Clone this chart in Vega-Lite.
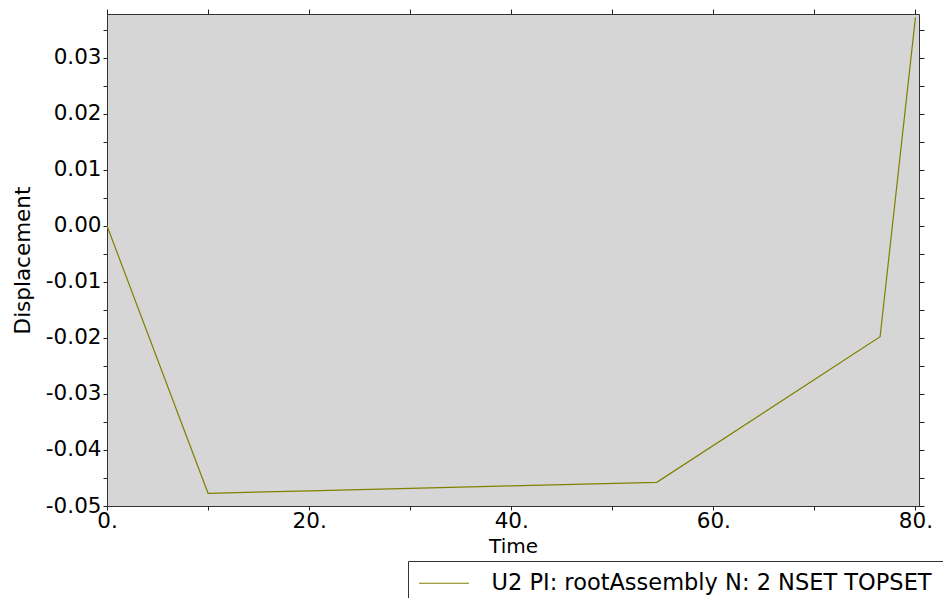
{
  "$schema": "https://vega.github.io/schema/vega-lite/v6.json",
  "autosize": "none",
  "width": 812,
  "height": 492,
  "padding": {"left": 107, "top": 14, "right": 24, "bottom": 92},
  "background": "white",
  "config": {
    "font": "DejaVu Sans",
    "view": {"fill": "#d6d6d6", "stroke": "#333333", "strokeWidth": 1},
    "axis": {
      "grid": false,
      "domain": false,
      "labelFont": "DejaVu Sans",
      "labelFontSize": 21.5,
      "labelColor": "black",
      "titleFont": "DejaVu Sans",
      "titleFontSize": 20,
      "titleFontWeight": "normal",
      "titleColor": "black",
      "tickColor": "#222222"
    }
  },
  "data": {
    "values": [
      {"time": 0, "u2": 0.0, "series": "U2 PI: rootAssembly N: 2 NSET TOPSET"},
      {"time": 10, "u2": -0.04774, "series": "U2 PI: rootAssembly N: 2 NSET TOPSET"},
      {"time": 20, "u2": -0.0473, "series": "U2 PI: rootAssembly N: 2 NSET TOPSET"},
      {"time": 30, "u2": -0.04686, "series": "U2 PI: rootAssembly N: 2 NSET TOPSET"},
      {"time": 40, "u2": -0.04642, "series": "U2 PI: rootAssembly N: 2 NSET TOPSET"},
      {"time": 54.4, "u2": -0.04578, "series": "U2 PI: rootAssembly N: 2 NSET TOPSET"},
      {"time": 76.5, "u2": -0.0198, "series": "U2 PI: rootAssembly N: 2 NSET TOPSET"},
      {"time": 80, "u2": 0.0372, "series": "U2 PI: rootAssembly N: 2 NSET TOPSET"}
    ]
  },
  "layer": [
    {
      "mark": {"type": "line", "strokeWidth": 1.2, "clip": true},
      "encoding": {
        "x": {
          "field": "time",
          "type": "quantitative",
          "scale": {"domain": [0, 80.35], "nice": false, "zero": false},
          "axis": {
            "title": "Time",
            "titlePadding": 5,
            "values": [0, 10, 20, 30, 40, 50, 60, 70, 80],
            "tickSize": 4,
            "labelPadding": 0,
            "labelFlush": false,
            "labelExpr": "datum.value % 20 === 0 ? datum.value + '.' : ''",
            "encode": {"ticks": {"update": {"y2": {"signal": "datum.value % 20 === 0 ? -10 : -5"}}}}
          }
        },
        "y": {
          "field": "u2",
          "type": "quantitative",
          "scale": {"domain": [-0.05, 0.0378], "nice": false, "zero": false},
          "axis": {
            "title": "Displacement",
            "titleFontSize": 21.5,
            "titlePadding": 11,
            "values": [-0.05, -0.045, -0.04, -0.035, -0.03, -0.025, -0.02, -0.015, -0.01, -0.005, 0, 0.005, 0.01, 0.015, 0.02, 0.025, 0.03, 0.035],
            "tickSize": 4,
            "labelPadding": 2,
            "labelFlush": false,
            "labelExpr": "abs(round(datum.value * 1000)) % 10 === 0 ? (datum.value < -0.0001 ? '-' : '') + format(abs(datum.value), '.2f') : ''",
            "encode": {"ticks": {"update": {"x2": {"signal": "abs(round(datum.value * 1000)) % 10 === 0 ? 10 : 5"}}}}
          }
        },
        "color": {
          "field": "series",
          "type": "nominal",
          "scale": {"range": ["#808000"]},
          "legend": {
            "title": null,
            "orient": "none",
            "legendX": 301,
            "legendY": 547,
            "symbolType": "M-2.5,0H2.5",
            "symbolSize": 400,
            "symbolStrokeWidth": 1.2,
            "symbolStrokeColor": "#808000",
            "symbolFillColor": "transparent",
            "labelFont": "DejaVu Sans",
            "labelFontSize": 22.5,
            "labelColor": "black",
            "labelOffset": 50,
            "labelLimit": 800,
            "padding": 11,
            "strokeColor": "#333333",
            "fillColor": "white",
            "encode": {"symbols": {"update": {"x": {"value": 25}}}}
          }
        }
      }
    },
    {
      "mark": {"type": "line", "strokeOpacity": 0},
      "encoding": {
        "x": {
          "field": "time",
          "type": "quantitative",
          "scale": {"domain": [0, 80.35], "nice": false, "zero": false},
          "axis": {
            "orient": "top",
            "title": null,
            "labels": false,
            "values": [0, 10, 20, 30, 40, 50, 60, 70, 80],
            "encode": {"ticks": {"update": {"y2": {"signal": "datum.value % 20 === 0 ? 10 : 5"}}}}
          }
        },
        "y": {
          "field": "u2",
          "type": "quantitative",
          "scale": {"domain": [-0.05, 0.0378], "nice": false, "zero": false},
          "axis": {
            "orient": "right",
            "title": null,
            "labels": false,
            "values": [-0.05, -0.045, -0.04, -0.035, -0.03, -0.025, -0.02, -0.015, -0.01, -0.005, 0, 0.005, 0.01, 0.015, 0.02, 0.025, 0.03, 0.035],
            "encode": {"ticks": {"update": {"x2": {"signal": "abs(round(datum.value * 1000)) % 10 === 0 ? -10 : -5"}}}}
          }
        }
      }
    }
  ],
  "resolve": {"axis": {"x": "independent", "y": "independent"}}
}
